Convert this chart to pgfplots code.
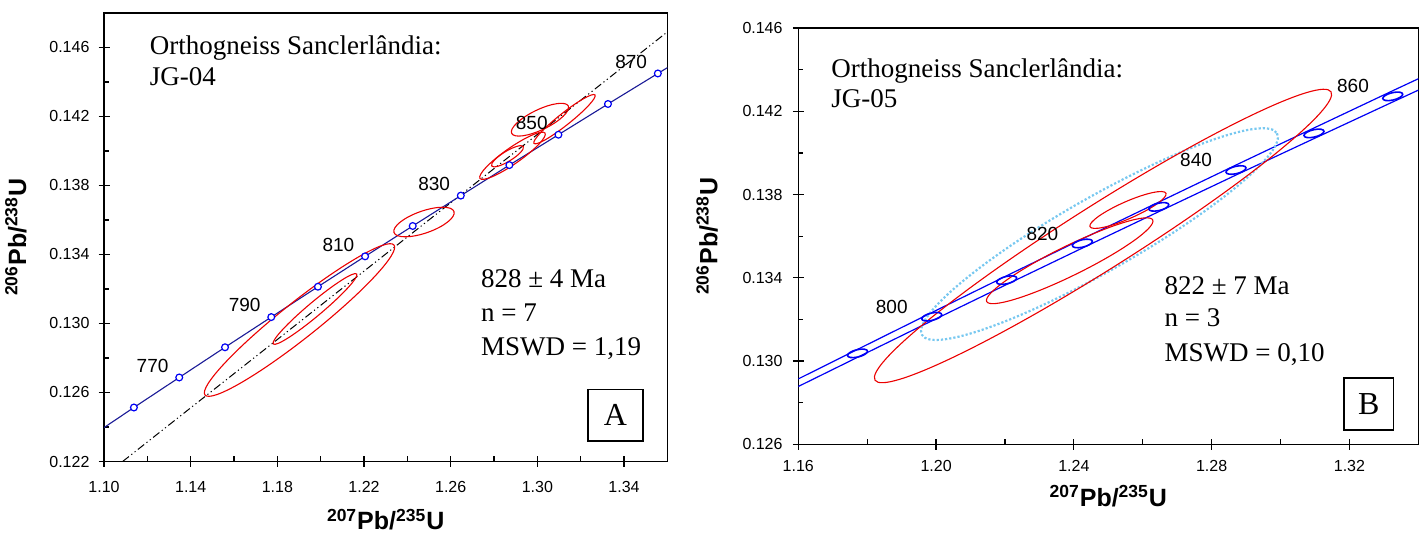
\documentclass[border=0pt]{standalone}
\usepackage{fontspec}
\setmainfont{Liberation Serif}
\setsansfont{Liberation Sans}
\usepackage{pgfplots}
\pgfplotsset{compat=1.18}
\usetikzlibrary{calc}

\definecolor{cred}{RGB}{235,0,0}
\definecolor{cnavy}{RGB}{25,25,150}
\definecolor{cblue}{RGB}{0,0,245}
\definecolor{ccyan}{RGB}{120,200,240}

% error ellipse: [style] cx cy ux uy vx vy (conjugate semi-diameters, data units)
\newcommand{\errell}[7][]{%
  \draw[#1] ($(axis cs:#2,#3)+(axis direction cs:#4,#5)$)
   .. controls ($(axis cs:#2,#3)+(axis direction cs:#4,#5)+0.5523*(axis direction cs:#6,#7)$)
   and ($(axis cs:#2,#3)+(axis direction cs:#6,#7)+0.5523*(axis direction cs:#4,#5)$)
   .. ($(axis cs:#2,#3)+(axis direction cs:#6,#7)$)
   .. controls ($(axis cs:#2,#3)+(axis direction cs:#6,#7)-0.5523*(axis direction cs:#4,#5)$)
   and ($(axis cs:#2,#3)-(axis direction cs:#4,#5)+0.5523*(axis direction cs:#6,#7)$)
   .. ($(axis cs:#2,#3)-(axis direction cs:#4,#5)$)
   .. controls ($(axis cs:#2,#3)-(axis direction cs:#4,#5)-0.5523*(axis direction cs:#6,#7)$)
   and ($(axis cs:#2,#3)-(axis direction cs:#6,#7)-0.5523*(axis direction cs:#4,#5)$)
   .. ($(axis cs:#2,#3)-(axis direction cs:#6,#7)$)
   .. controls ($(axis cs:#2,#3)-(axis direction cs:#6,#7)+0.5523*(axis direction cs:#4,#5)$)
   and ($(axis cs:#2,#3)+(axis direction cs:#4,#5)-0.5523*(axis direction cs:#6,#7)$)
   .. cycle;}

\tikzset{
  txt/.style={font=\fontsize{13.5}{16}\selectfont},
  agelbl/.style={font=\fontsize{9.5}{11}\selectfont\sffamily},
}

\pgfplotsset{
  conc/.style={
    scale only axis,
    axis line style={line width=0.75pt},
    every tick/.style={black, line width=0.6pt},
    tick align=center, major tick length=5.5pt,
    tick pos=left,
    scaled ticks=false,
    tick label style={font=\fontsize{8}{9}\selectfont\sffamily},
    /pgf/number format/assume math mode=true,
    x tick label style={/pgf/number format/.cd, fixed, fixed zerofill, precision=2, /tikz/.cd},
    y tick label style={/pgf/number format/.cd, fixed, fixed zerofill, precision=3, /tikz/.cd},
    label style={font=\fontsize{12.5}{14}\selectfont\sffamily\bfseries},
    xlabel={\textsuperscript{207}Pb/\textsuperscript{235}U},
    ylabel={\textsuperscript{206}Pb/\textsuperscript{238}U},
    extra x tick labels={}, extra y tick labels={},
    extra tick style={tick align=inside, major tick length=2.5pt},
  },
}

\begin{document}
\begin{tikzpicture}
\useasboundingbox (0,0) rectangle (714pt,267.5pt);

% ---------------- Panel A ----------------
\begin{axis}[conc,
  at={(52pt,36.75pt)}, anchor=south west,
  width=281.7pt, height=224.3pt,
  xmin=1.10, xmax=1.36, ymin=0.122, ymax=0.148,
  xtick={1.10,1.14,1.18,1.22,1.26,1.30,1.34},
  ytick={0.122,0.126,0.130,0.134,0.138,0.142,0.146},
  extra x ticks={1.12,1.16,1.20,1.24,1.28,1.32},
  extra y ticks={0.124,0.128,0.132,0.136,0.140,0.144},
  x tick label style={yshift=-3.6pt},
  y tick label style={xshift=-1pt},
  xlabel style={at={(axis description cs:0.5,-0.1527)}, anchor=base},
  ylabel style={at={(axis description cs:-0.1384,0.5)}, anchor=base},
]
% discordia
\addplot[black, line width=0.5pt, dash pattern=on 4pt off 1.5pt on 0.6pt off 1.5pt on 0.6pt off 1.5pt]
  coordinates {(1.1086,0.1220) (1.3600,0.1469)};
% concordia curve
\addplot[cnavy, line width=0.55pt] coordinates {
 (1.09308,0.12338) (1.11380,0.12513) (1.13472,0.12687) (1.15585,0.12862)
 (1.17719,0.13037) (1.19873,0.13213) (1.22049,0.13389) (1.24247,0.13565)
 (1.26466,0.13741) (1.28707,0.13918) (1.30971,0.14094) (1.33257,0.14272)
 (1.35559,0.14449) (1.37899,0.14627)};
% ellipses
\errell[cred, line width=0.55pt]{1.19022}{0.13020}{0.04361}{0.004347}{0.00517}{-0.000817}
\errell[cred, line width=0.55pt]{1.19737}{0.13084}{0.01924}{0.002028}{0.00208}{-0.000313}
\errell[cred, line width=0.55pt]{1.24767}{0.13588}{0.01384}{0.000609}{0.00166}{-0.000603}
\errell[cred, line width=0.55pt]{1.30120}{0.14181}{0.01306}{0.000794}{0.00203}{-0.000522}
\errell[cred, line width=0.55pt]{1.31251}{0.14184}{0.01407}{0.001402}{0.00171}{-0.000272}
\errell[cred, line width=0.55pt]{1.28620}{0.13969}{0.00729}{0.000562}{0.00120}{-0.000249}
\errell[cred, line width=0.55pt]{1.28851}{0.13972}{0.01500}{0.001316}{0.00212}{-0.000382}
% concordia age marks
\addplot[only marks, mark=*, mark size=1.7pt, mark options={draw=cblue, fill=white, line width=0.6pt}]
 coordinates {
 (1.11380,0.12513) (1.13472,0.12687) (1.15585,0.12862)
 (1.17719,0.13037) (1.19873,0.13213) (1.22049,0.13389) (1.24247,0.13565)
 (1.26466,0.13741) (1.28707,0.13918) (1.30971,0.14094) (1.33257,0.14272)
 (1.35559,0.14449)};
\node[agelbl] at (axis cs:1.12242,0.12755) {770};
\node[agelbl] at (axis cs:1.16489,0.13105) {790};
\node[agelbl] at (axis cs:1.20819,0.13457) {810};
\node[agelbl] at (axis cs:1.25236,0.13809) {830};
\node[agelbl] at (axis cs:1.29741,0.14162) {850};
\node[agelbl] at (axis cs:1.34329,0.14517) {870};
\node[txt, anchor=base west] at (axis cs:1.1179,0.14556) {Orthogneiss Sanclerlândia:};
\node[txt, anchor=base west] at (axis cs:1.1179,0.14380) {JG-04};
\node[txt, anchor=base west] at (axis cs:1.27079,0.13208) {828 ± 4 Ma};
\node[txt, anchor=base west] at (axis cs:1.27079,0.13011) {n = 7};
\node[txt, anchor=base west] at (axis cs:1.27079,0.12814) {MSWD = 1,19};
\node[draw, line width=0.8pt, minimum width=27.5pt, minimum height=25.9pt, inner sep=0pt,
      font=\fontsize{16}{18}\selectfont] at (axis cs:1.33604,0.12468) {A};
\end{axis}

% ---------------- Panel B ----------------
\begin{axis}[conc,
  at={(399.15pt,45.35pt)}, anchor=south west,
  width=310pt, height=208.1pt,
  xmin=1.16, xmax=1.34, ymin=0.126, ymax=0.146,
  xtick={1.16,1.20,1.24,1.28,1.32},
  ytick={0.126,0.130,0.134,0.138,0.142,0.146},
  extra x ticks={1.18,1.22,1.26,1.30},
  extra y ticks={0.128,0.132,0.136,0.140,0.144},
  x tick label style={yshift=-1.6pt},
  y tick label style={xshift=-1.6pt},
  xlabel style={at={(axis description cs:0.5,-0.1497)}, anchor=base},
  ylabel style={at={(axis description cs:-0.1307,0.5)}, anchor=base},
]
% concordia error band
\addplot[cblue, line width=0.6pt] coordinates {
 (1.13472,0.12704) (1.15585,0.12880) (1.17719,0.13056) (1.19873,0.13233)
 (1.22049,0.13410) (1.24247,0.13587) (1.26466,0.13764) (1.28707,0.13942)
 (1.30971,0.14120) (1.33257,0.14299) (1.35559,0.14477) (1.37899,0.14656)};
\addplot[cblue, line width=0.6pt] coordinates {
 (1.13472,0.12670) (1.15585,0.12844) (1.17719,0.13018) (1.19873,0.13193)
 (1.22049,0.13368) (1.24247,0.13543) (1.26466,0.13718) (1.28707,0.13894)
 (1.30971,0.14069) (1.33257,0.14245) (1.35559,0.14421) (1.37899,0.14598)};
% data ellipses
\errell[ccyan, line width=1.1pt, densely dotted]{1.24744}{0.13610}{0.05153}{0.004844}{0.00531}{-0.001547}
\errell[cred, line width=0.55pt]{1.24846}{0.13601}{0.06619}{0.006930}{0.00494}{-0.001293}
\errell[cred, line width=0.55pt]{1.23879}{0.13482}{0.02410}{0.001961}{0.00189}{-0.000639}
\errell[cred, line width=0.55pt]{1.25571}{0.13726}{0.01103}{0.000803}{0.00099}{-0.000375}
% concordia age ellipses
\errell[cblue, line width=0.8pt]{1.17719}{0.13037}{0.0029}{0.0001}{0}{0.00018}
\errell[cblue, line width=0.8pt]{1.19873}{0.13213}{0.0029}{0.0001}{0}{0.00018}
\errell[cblue, line width=0.8pt]{1.22049}{0.13389}{0.0029}{0.0001}{0}{0.00018}
\errell[cblue, line width=0.8pt]{1.24247}{0.13565}{0.0029}{0.0001}{0}{0.00018}
\errell[cblue, line width=0.8pt]{1.26466}{0.13741}{0.0029}{0.0001}{0}{0.00018}
\errell[cblue, line width=0.8pt]{1.28707}{0.13918}{0.0029}{0.0001}{0}{0.00018}
\errell[cblue, line width=0.8pt]{1.30971}{0.14094}{0.0029}{0.0001}{0}{0.00018}
\errell[cblue, line width=0.8pt]{1.33257}{0.14272}{0.0029}{0.0001}{0}{0.00018}
\node[agelbl] at (axis cs:1.18713,0.13261) {800};
\node[agelbl] at (axis cs:1.23087,0.13613) {820};
\node[agelbl] at (axis cs:1.27547,0.13966) {840};
\node[agelbl] at (axis cs:1.32104,0.14322) {860};
\node[txt, anchor=base west] at (axis cs:1.16758,0.14363) {Orthogneiss Sanclerlândia:};
\node[txt, anchor=base west] at (axis cs:1.16758,0.14219) {JG-05};
\node[txt, anchor=base west] at (axis cs:1.26428,0.13322) {822 ± 7 Ma};
\node[txt, anchor=base west] at (axis cs:1.26428,0.13166) {n = 3};
\node[txt, anchor=base west] at (axis cs:1.26428,0.13000) {MSWD = 0,10};
\node[draw, line width=0.8pt, minimum width=24.75pt, minimum height=25.9pt, inner sep=0pt,
      font=\fontsize{16}{18}\selectfont] at (axis cs:1.32561,0.12793) {B};
\end{axis}
\end{tikzpicture}
\end{document}
